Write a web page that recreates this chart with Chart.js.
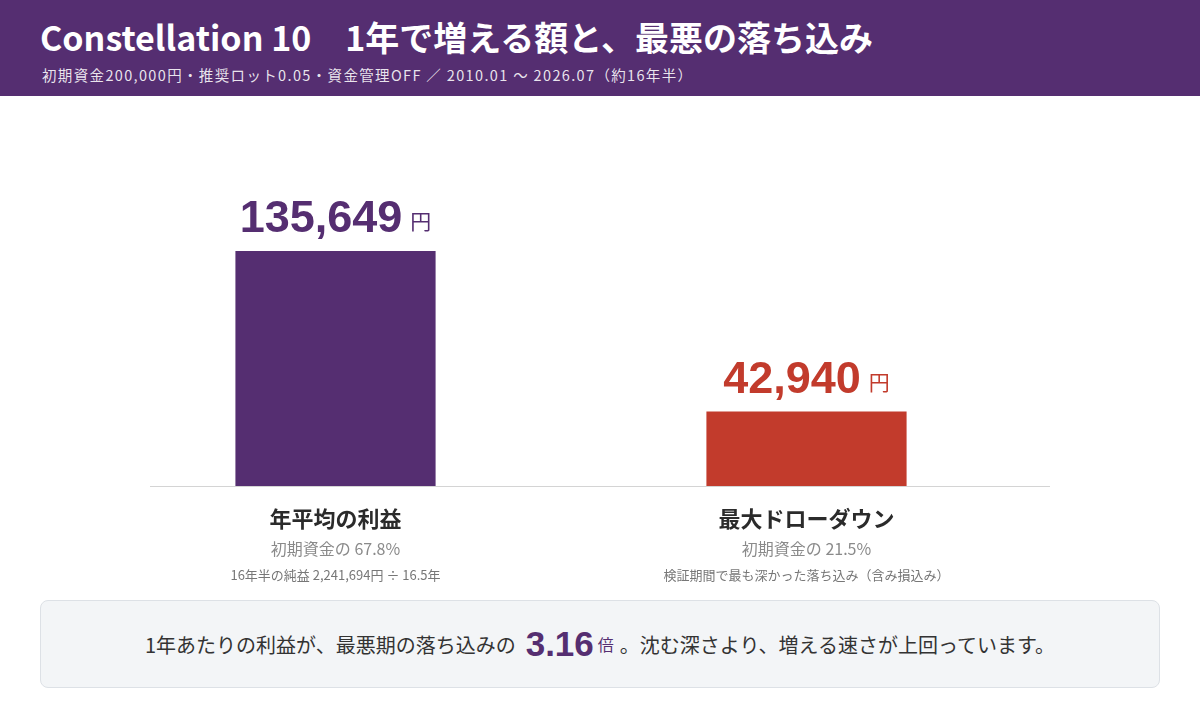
<!DOCTYPE html>
<html lang="ja">
<head>
<meta charset="utf-8">
<script src="https://cdn.jsdelivr.net/npm/chart.js@4.4.1/dist/chart.umd.min.js"></script>
<style>
  html, body { margin:0; padding:0; width:1200px; height:720px; background:#fff; overflow:hidden;
    font-family:"Noto Sans CJK JP","Noto Sans",sans-serif; }
  #header { position:absolute; left:0; top:0; width:1200px; height:96px; background:#552e71; color:#fff; }
  #title { position:absolute; left:40px; top:12px; font-size:34px; font-weight:700; white-space:nowrap; }
  #subtitle { position:absolute; left:42px; top:64px; font-size:14.5px; letter-spacing:1.35px; color:rgba(255,255,255,0.88); white-space:nowrap; }
  #wrap { position:absolute; left:0; top:96px; width:1200px; height:504px; }
  #box { position:absolute; left:40px; top:600px; width:1118px; height:86px; background:#f3f5f7; border:1px solid #dde1e6;
    border-radius:8px; display:flex; align-items:center; justify-content:center; font-size:20px; color:#333; white-space:nowrap; }
  #box .big { font-family:"Liberation Sans",Arial,sans-serif; font-weight:700; font-size:35px; color:#552e71; margin:0 4px 0 10px; }
  #box .unit { font-size:16px; color:#552e71; margin-right:6px; }
</style>
</head>
<body>
<div id="header">
  <div id="title">Constellation 10　1年で増える額と、最悪の落ち込み</div>
  <div id="subtitle">初期資金200,000円・推奨ロット0.05・資金管理OFF ／ 2010.01 〜 2026.07（約16年半）</div>
</div>
<div id="wrap"><canvas id="c"></canvas></div>
<div id="box"><span>1年あたりの利益が、最悪期の落ち込みの</span><span class="big" id="ratio"></span><span class="unit">倍</span><span>。沈む深さより、増える速さが上回っています。</span></div>
<script>
const categories = ["年平均の利益", "最大ドローダウン"];
const values = [135649, 42940];
const valueLabels = ["135,649", "42,940"];
const unitLabel = "円";
const subLabels = ["初期資金の 67.8%", "初期資金の 21.5%"];
const noteLabels = ["16年半の純益 2,241,694円 ÷ 16.5年", "検証期間で最も深かった落ち込み（含み損込み）"];
const ratioText = "3.16";
const barColors = ["#552e71", "#c23b2c"];

document.getElementById('ratio').textContent = ratioText;

const labelPlugin = {
  id: 'labels',
  afterDatasetsDraw(chart) {
    const ctx = chart.ctx;
    const meta = chart.getDatasetMeta(0);
    const bottom = chart.chartArea.bottom;
    ctx.save();
    // baseline
    ctx.strokeStyle = '#d4d4d4';
    ctx.lineWidth = 1;
    ctx.beginPath();
    ctx.moveTo(150, bottom + 0.5);
    ctx.lineTo(1050, bottom + 0.5);
    ctx.stroke();
    meta.data.forEach((bar, i) => {
      const x = bar.x;
      // value label
      const numFont = '700 45px "Liberation Sans", Arial, sans-serif';
      const unitFont = '400 21px "Noto Sans CJK JP", sans-serif';
      ctx.font = numFont;
      const nw = ctx.measureText(valueLabels[i]).width;
      ctx.font = unitFont;
      const uw = ctx.measureText(unitLabel).width;
      const gap = 8;
      const total = nw + gap + uw;
      const left = x - total / 2;
      const baseY = bar.y - 19;
      ctx.textBaseline = 'alphabetic';
      ctx.textAlign = 'left';
      ctx.fillStyle = barColors[i];
      ctx.font = numFont;
      ctx.fillText(valueLabels[i], left, baseY);
      ctx.font = unitFont;
      ctx.fillText(unitLabel, left + nw + gap, baseY - 3);
      // category labels
      ctx.textAlign = 'center';
      ctx.textBaseline = 'middle';
      ctx.fillStyle = '#2b2b2b';
      ctx.font = '700 22px "Noto Sans CJK JP", sans-serif';
      ctx.fillText(categories[i], x, bottom + 33);
      ctx.fillStyle = '#8a8a8a';
      ctx.font = '400 16px "Noto Sans CJK JP", sans-serif';
      ctx.fillText(subLabels[i], x, bottom + 63);
      ctx.fillStyle = '#777';
      ctx.font = '400 13px "Noto Sans CJK JP", sans-serif';
      ctx.fillText(noteLabels[i], x, bottom + 89);
    });
    ctx.restore();
  }
};

new Chart(document.getElementById('c'), {
  type: 'bar',
  data: {
    labels: categories,
    datasets: [{ data: values, backgroundColor: barColors, borderWidth: 0,
      barPercentage: 0.425, categoryPercentage: 1 }]
  },
  options: {
    responsive: true,
    maintainAspectRatio: false,
    animation: false,
    layout: { padding: { left: 100, right: 158, top: 43.5, bottom: 114 } },
    plugins: { legend: { display: false }, tooltip: { enabled: false } },
    scales: {
      x: { display: false },
      y: { display: false, min: 0, max: 200000 }
    }
  },
  plugins: [labelPlugin]
});
</script>
</body>
</html>
